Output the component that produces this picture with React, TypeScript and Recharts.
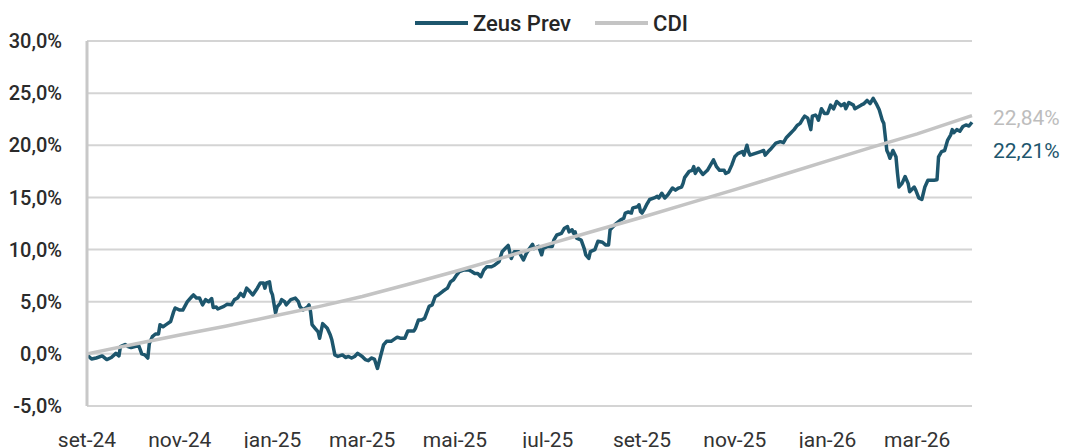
import { LineChart, Line, XAxis, YAxis, CartesianGrid } from 'recharts';

// days since 01/09/2024
const monthTicks = [0, 61, 122, 181, 242, 303, 365, 426, 487, 546];
const monthLabels = ['set-24', 'nov-24', 'jan-25', 'mar-25', 'mai-25', 'jul-25', 'set-25', 'nov-25', 'jan-26', 'mar-26'];
const yTicks = [-5, 0, 5, 10, 15, 20, 25, 30];

const zeusDays = [
  0, 3, 6, 10, 13, 16, 19, 21, 22, 25,
  27, 29, 34, 35, 36, 38, 40, 41, 43, 45,
  47, 48, 50, 52, 55, 57, 58, 61, 63, 66,
  69, 70, 72, 74, 76, 78, 80, 82, 83, 85,
  86, 90, 92, 95, 97, 99, 101, 103, 105, 107,
  109, 112, 114, 116, 117, 118, 120, 121, 122, 124,
  125, 127, 128, 130, 131, 134, 137, 139, 140, 142,
  145, 146, 147, 148, 150, 152, 153, 155, 158, 160,
  161, 163, 165, 168, 170, 172, 174, 176, 178, 181,
  183, 185, 187, 189, 191, 193, 195, 197, 200, 204,
  206, 209, 211, 215, 216, 218, 220, 222, 225, 227,
  229, 231, 234, 237, 239, 241, 243, 245, 248, 251,
  253, 255, 257, 259, 261, 263, 266, 268, 271, 273,
  275, 277, 279, 281, 284, 287, 289, 291, 293, 294,
  297, 299, 300, 303, 306, 307, 309, 312, 314, 316,
  317, 319, 320, 321, 322, 325, 327, 328, 330, 331,
  334, 336, 339, 341, 343, 344, 346, 348, 351, 353,
  354, 356, 358, 359, 362, 363, 364, 365, 367, 368,
  370, 373, 375, 376, 378, 380, 382, 385, 387, 389,
  391, 392, 393, 396, 398, 399, 400, 402, 404, 405,
  408, 410, 412, 414, 416, 419, 420, 422, 424, 426,
  428, 431, 432, 434, 435, 436, 439, 443, 445, 446,
  448, 450, 453, 456, 458, 460, 463, 465, 467, 469,
  471, 472, 474, 476, 477, 479, 480, 481, 483, 485,
  487, 489, 491, 493, 496, 498, 499, 501, 504, 505,
  509, 511, 513, 515, 517, 519, 521, 523, 524, 526,
  527, 528, 530, 532, 533, 534, 536, 538, 540, 541,
  544, 545, 547, 549, 551, 553, 557, 559, 560, 562,
  564, 566, 568, 569, 570, 572, 574, 576, 578, 580,
  582,
];

const zeusValues = [
  -0.1, -0.5, -0.4, -0.2, -0.55, -0.35, 0.05, -0.2, 0.7, 0.9,
  0.7, 0.6, 0.8, 0.4, 0.0, -0.1, -0.4, 1.0, 1.65, 1.9,
  1.9, 2.8, 2.6, 2.8, 3.1, 4.05, 4.4, 4.2, 4.2, 5.0,
  5.5, 5.65, 5.35, 5.35, 4.7, 5.2, 5.0, 5.3, 4.45, 4.5,
  4.3, 4.55, 4.75, 4.7, 5.2, 5.35, 5.8, 5.5, 6.3, 6.0,
  5.65, 6.3, 6.8, 6.8, 6.3, 6.8, 6.9, 6.0, 5.65, 3.9,
  4.5, 4.85, 5.2, 5.0, 4.7, 5.2, 5.35, 5.0, 4.55, 4.2,
  4.5, 4.7, 4.05, 2.8, 2.45, 2.1, 1.5, 2.9, 2.45, 1.8,
  1.35, -0.1, -0.25, -0.1, -0.35, -0.25, -0.4, -0.25, 0.05, -0.25,
  -0.55, -0.65, -0.4, -0.5, -1.4, -0.25, 0.85, 1.2, 1.2, 1.6,
  1.5, 1.5, 2.2, 2.2, 2.45, 3.25, 3.25, 3.4, 4.55, 4.7,
  5.5, 5.65, 6.0, 6.3, 6.9, 7.1, 7.55, 7.9, 8.05, 8.05,
  7.9, 7.7, 7.7, 7.4, 8.05, 8.35, 8.35, 8.5, 8.85, 9.8,
  10.1, 10.4, 9.15, 9.8, 9.8, 9.0, 9.65, 10.1, 10.5, 10.1,
  10.3, 9.5, 10.1, 10.3, 10.3, 10.9, 11.4, 11.55, 12.05, 12.2,
  11.7, 11.9, 11.55, 11.7, 11.1, 10.9, 10.1, 9.5, 9.15, 9.8,
  10.0, 10.8, 10.7, 10.45, 10.45, 11.9, 12.2, 12.5, 12.85, 13.0,
  13.5, 13.6, 13.5, 14.0, 14.1, 14.3, 13.65, 13.5, 14.0, 14.3,
  14.8, 14.95, 15.1, 14.95, 15.4, 14.95, 15.25, 15.9, 15.7, 15.9,
  16.0, 16.35, 16.9, 17.5, 17.6, 17.95, 17.3, 17.8, 17.4, 17.2,
  17.6, 18.1, 18.6, 17.95, 17.6, 17.6, 17.3, 17.45, 18.1, 18.9,
  19.2, 19.4, 19.05, 20.0, 19.4, 19.05, 19.2, 19.4, 19.5, 19.05,
  19.4, 19.7, 20.2, 20.35, 20.25, 20.75, 21.2, 21.5, 21.9, 22.1,
  22.6, 22.8, 22.6, 21.5, 22.8, 22.9, 22.75, 22.4, 23.5, 23.05,
  23.05, 23.85, 23.5, 24.2, 23.8, 24.0, 23.5, 24.1, 23.85, 23.5,
  23.85, 24.0, 24.3, 24.0, 24.5, 24.0, 23.4, 22.4, 22.1, 19.5,
  19.2, 18.75, 19.5, 18.9, 17.3, 16.0, 16.35, 17.0, 16.35, 15.55,
  16.0, 15.7, 14.95, 14.8, 16.0, 16.65, 16.65, 16.7, 18.9, 19.4,
  19.5, 20.5, 21.0, 21.5, 21.2, 21.5, 21.35, 21.8, 21.95, 21.85,
  22.21,
];

const cdiDays = [0, 30, 61, 91, 122, 153, 181, 212, 242, 273, 303, 334, 365, 395, 426, 456, 487, 518, 546, 577, 582];
const cdiValues = [0, 0.9, 1.8, 2.65, 3.6, 4.55, 5.5, 6.7, 7.9, 9.2, 10.5, 11.8, 13.1, 14.4, 15.75, 17.1, 18.5, 19.9, 21.1, 22.6, 22.84];

const ZEUS_COLOR = '#1d566d';
const CDI_COLOR = '#c4c4c4';
const FONT = 'Roboto, "Noto Sans", sans-serif';

const zeusData = zeusDays.slice(0, zeusValues.length).map((d, i) => ({ day: d, value: zeusValues[i] }));
const cdiData = cdiDays.map((d, i) => ({ day: d, value: cdiValues[i] }));

const pct = (v: number, digits: number) => v.toFixed(digits).replace('.', ',') + '%';

function endLabel(color: string, lastIndex: number, dy: number) {
  return (props: any) => {
    if (props.index !== lastIndex) return null;
    return (
      <text x={props.x + 21} y={props.y + dy} fill={color} fontSize={21} fontFamily={FONT}>
        {pct(props.value, 2)}
      </text>
    );
  };
}

function LegendBar() {
  const item = (color: string, text: string) => (
    <div style={{ display: 'flex', alignItems: 'center', marginRight: 24 }}>
      <div style={{ width: 53, height: 4, background: color, marginRight: 5 }} />
      <span>{text}</span>
    </div>
  );
  return (
    <div
      style={{
        position: 'absolute', left: 415, top: 8, height: 30, display: 'flex', alignItems: 'center',
        fontFamily: FONT, fontSize: 22, fontWeight: 500, color: '#262626',
      }}
    >
      {item(ZEUS_COLOR, 'Zeus Prev')}
      {item(CDI_COLOR, 'CDI')}
    </div>
  );
}

export default function App() {
  return (
    <div style={{ position: 'fixed', left: 0, top: 0, width: 1066, height: 448, overflow: 'hidden', background: '#fff' }}>
      <LineChart width={1066} height={448} margin={{ top: 41, right: 94, left: 0, bottom: 12 }}>
        <CartesianGrid vertical={false} stroke="#d4d4d4" strokeWidth={2} />
        <XAxis
          dataKey="day"
          type="number"
          domain={[0, 582]}
          ticks={monthTicks}
          tickFormatter={(v: number) => monthLabels[monthTicks.indexOf(v)] ?? ''}
          axisLine={false}
          tickLine={false}
          tickSize={0}
          tickMargin={26}
          height={30}
          tick={{ fill: '#333333', fontSize: 21, fontFamily: FONT }}
        />
        <YAxis
          domain={[-5, 30]}
          ticks={yTicks}
          tickFormatter={(v: number) => pct(v, 1)}
          width={87}
          axisLine={{ stroke: '#c8c8c8', strokeWidth: 3 }}
          tickLine={false}
          tickSize={0}
          tickMargin={25}
          tick={{ fill: '#2b2b2b', fontSize: 20, fontWeight: 500, fontFamily: FONT }}
        />
        <Line
          data={zeusData}
          dataKey="value"
          type="linear"
          stroke={ZEUS_COLOR}
          strokeWidth={3.5}
          strokeLinejoin="round"
          dot={false}
          isAnimationActive={false}
          label={endLabel(ZEUS_COLOR, zeusData.length - 1, 36)}
        />
        <Line
          data={cdiData}
          dataKey="value"
          type="linear"
          stroke={CDI_COLOR}
          strokeWidth={3.5}
          dot={false}
          isAnimationActive={false}
          label={endLabel('#bdbdbd', cdiData.length - 1, 9)}
        />
      </LineChart>
      <LegendBar />
    </div>
  );
}
